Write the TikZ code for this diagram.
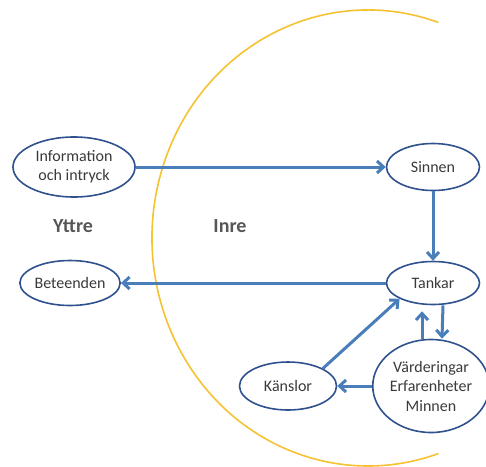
\documentclass[tikz,border=0pt]{standalone}
\usepackage{fontspec}
\setmainfont{Carlito}
\usetikzlibrary{shapes.geometric,arrows.meta}
\definecolor{arrowblue}{HTML}{4A7EBB}
\definecolor{rimblue}{HTML}{2F528F}
\definecolor{arcgold}{HTML}{F5C231}
\definecolor{textgrey}{HTML}{3A3A3A}

\tikzset{
  bubble/.style={ellipse, draw=rimblue, line width=1.6pt, fill=white, inner sep=0pt,
    text=textgrey, align=center, font=\fontsize{16}{19.5}\selectfont},
  flow/.style={draw=arrowblue, line width=3pt, -{Straight Barb[length=6.5pt,width=12pt]}},
  side/.style={text=textgrey!85, font=\fontsize{20}{24}\selectfont\bfseries}
}

\begin{document}
\begin{tikzpicture}[x=1pt,y=-1pt]
\useasboundingbox (0,0) rectangle (486,466);

% Boundary between outside and inside
\draw[arcgold, line width=1.6pt] (368,238) ++(71:216pt and 228pt)
  arc[start angle=71, end angle=289, x radius=216pt, y radius=228pt];

% Outside
\node[bubble, minimum width=122pt, minimum height=60pt] (info) at (74,167) {Information\\och intryck};
\node[bubble, minimum width=94pt, minimum height=45pt] (beteenden) at (70,283) {Beteenden};
\node[side] (yttre) at (73,226) {Yttre};

% Inside
\node[side] (inre) at (230,226) {Inre};
\node[bubble, minimum width=93pt, minimum height=47pt] (sinnen) at (433,167) {Sinnen};
\node[bubble, minimum width=93pt, minimum height=43pt] (tankar) at (433,283) {Tankar};
\node[bubble, minimum width=97pt, minimum height=48pt] (kanslor) at (288,386) {Känslor};
\node[bubble, minimum width=108pt, minimum height=93pt] (vard) at (431,386) {Värderingar\\Erfarenheter\\Minnen};

% Connections
\draw[flow] (info) -- (sinnen);
\draw[flow] (sinnen) -- (tankar);
\draw[flow] (tankar) -- (beteenden);
\draw[flow] (kanslor.north east) -- (tankar.south west);
\draw[flow, shorten >=6pt] ([xshift=-9pt]vard.north) -- ([xshift=-11pt]tankar.south);
\draw[flow] ([xshift=10pt]tankar.south) -- ([xshift=11pt]vard.north);
\draw[flow] (vard) -- (kanslor);
\end{tikzpicture}
\end{document}
